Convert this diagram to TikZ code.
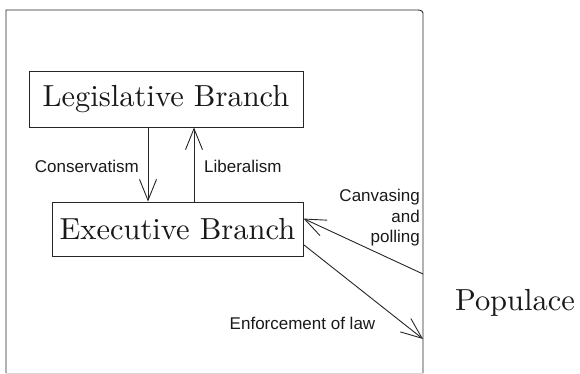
\documentclass[tikz,border=0pt]{standalone}
\usepackage{fontspec}
\setsansfont{Liberation Sans}
\newfontfamily\bigserif{lmroman10-regular.otf}
\usetikzlibrary{arrows.meta,calc}
\begin{document}
\begin{tikzpicture}[x=1pt,y=-1pt,
  ln/.style={draw=black!85,line width=0.9pt},
  serif/.style={font=\bigserif\fontsize{30.5}{33}\selectfont,text=black!90},
  branch/.style={ln,serif,rectangle,inner sep=0pt},
  lbl/.style={font=\sffamily\fontsize{17}{20.5}\selectfont,text=black!90,inner sep=0pt},
  arr/.style={ln,-{Straight Barb[length=21pt,width=17pt,line width=0.9pt]}}]
\useasboundingbox (0,0) rectangle (580,374);
% frame
\draw[ln] (6,373) -- (6,10) -- (415,10) to[out=0,in=100] (423,13) -- (423,373);
\draw[black!15,line width=0.9pt] (6,373) -- (423,373);
% coordinates on the frame edge
\coordinate (pin1) at (423,274);
\coordinate (pin2) at (423,339);
% boxes
\node[branch,minimum width=274pt,minimum height=56pt] (leg) at (166,99) {Legislative Branch};
\node[branch,minimum width=251pt,minimum height=54pt] (exe) at (177.5,229) {Executive Branch};
\node[serif,inner sep=0pt] (pop) at (515,303) {Populace};
% vertical arrows
\coordinate (cd) at (148,0);
\coordinate (cu) at (194,0);
\draw[arr] (leg.south -| cd) -- (exe.north -| cd);
\draw[arr] (exe.north -| cu) -- (leg.south -| cu);
\node[lbl,anchor=east] (cons) at (139,166) {Conservatism};
\node[lbl,anchor=west] (lib) at (204,166) {Liberalism};
% populace arrows
\coordinate (e1) at ($(exe.north east)+(0,17)$);
\coordinate (e2) at ($(exe.north east)+(0,43)$);
\draw[arr] (pin1) -- (e1);
\draw[arr] (e2) -- (pin2);
\node[lbl,align=right,anchor=north east] (canv) at (420,189) {Canvasing\\and\hspace*{9pt}\\polling};
\node[lbl] (enf) at (302.5,323) {Enforcement of law};
\end{tikzpicture}
\end{document}
